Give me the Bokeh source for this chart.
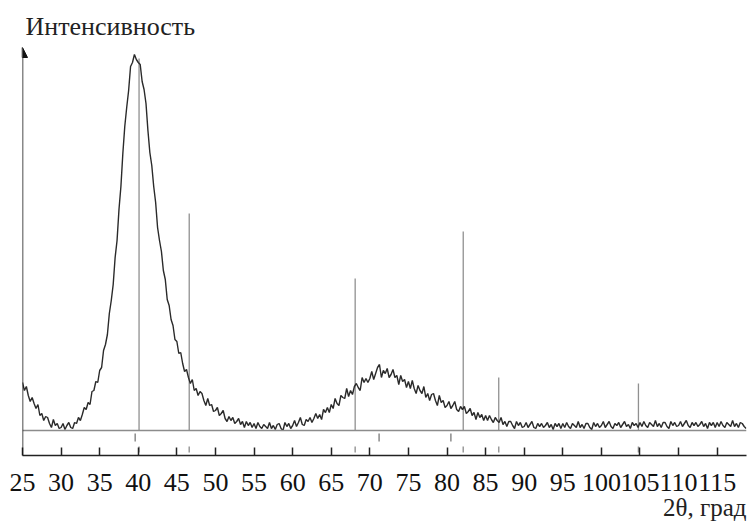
from bokeh.plotting import figure
from bokeh.models import Range1d, FixedTicker, Span, Arrow, NormalHead, Title
from bokeh.embed import file_html
from bokeh.resources import INLINE

# ---- data ----
two_theta = [
    25.0, 25.25, 25.5, 25.75, 26.0, 26.25, 26.5, 26.75, 27.0, 27.25,
    27.5, 27.75, 28.0, 28.25, 28.5, 28.75, 29.0, 29.25, 29.5, 29.75,
    30.0, 30.25, 30.5, 30.75, 31.0, 31.25, 31.5, 31.75, 32.0, 32.25,
    32.5, 32.75, 33.0, 33.25, 33.5, 33.75, 34.0, 34.25, 34.5, 34.75,
    35.0, 35.25, 35.5, 35.75, 36.0, 36.25, 36.5, 36.75, 37.0, 37.25,
    37.5, 37.75, 38.0, 38.25, 38.5, 38.75, 39.0, 39.25, 39.5, 39.75,
    40.0, 40.25, 40.5, 40.75, 41.0, 41.25, 41.5, 41.75, 42.0, 42.25,
    42.5, 42.75, 43.0, 43.25, 43.5, 43.75, 44.0, 44.25, 44.5, 44.75,
    45.0, 45.25, 45.5, 45.75, 46.0, 46.25, 46.5, 46.75, 47.0, 47.25,
    47.5, 47.75, 48.0, 48.25, 48.5, 48.75, 49.0, 49.25, 49.5, 49.75,
    50.0, 50.25, 50.5, 50.75, 51.0, 51.25, 51.5, 51.75, 52.0, 52.25,
    52.5, 52.75, 53.0, 53.25, 53.5, 53.75, 54.0, 54.25, 54.5, 54.75,
    55.0, 55.25, 55.5, 55.75, 56.0, 56.25, 56.5, 56.75, 57.0, 57.25,
    57.5, 57.75, 58.0, 58.25, 58.5, 58.75, 59.0, 59.25, 59.5, 59.75,
    60.0, 60.25, 60.5, 60.75, 61.0, 61.25, 61.5, 61.75, 62.0, 62.25,
    62.5, 62.75, 63.0, 63.25, 63.5, 63.75, 64.0, 64.25, 64.5, 64.75,
    65.0, 65.25, 65.5, 65.75, 66.0, 66.25, 66.5, 66.75, 67.0, 67.25,
    67.5, 67.75, 68.0, 68.25, 68.5, 68.75, 69.0, 69.25, 69.5, 69.75,
    70.0, 70.25, 70.5, 70.75, 71.0, 71.25, 71.5, 71.75, 72.0, 72.25,
    72.5, 72.75, 73.0, 73.25, 73.5, 73.75, 74.0, 74.25, 74.5, 74.75,
    75.0, 75.25, 75.5, 75.75, 76.0, 76.25, 76.5, 76.75, 77.0, 77.25,
    77.5, 77.75, 78.0, 78.25, 78.5, 78.75, 79.0, 79.25, 79.5, 79.75,
    80.0, 80.25, 80.5, 80.75, 81.0, 81.25, 81.5, 81.75, 82.0, 82.25,
    82.5, 82.75, 83.0, 83.25, 83.5, 83.75, 84.0, 84.25, 84.5, 84.75,
    85.0, 85.25, 85.5, 85.75, 86.0, 86.25, 86.5, 86.75, 87.0, 87.25,
    87.5, 87.75, 88.0, 88.25, 88.5, 88.75, 89.0, 89.25, 89.5, 89.75,
    90.0, 90.25, 90.5, 90.75, 91.0, 91.25, 91.5, 91.75, 92.0, 92.25,
    92.5, 92.75, 93.0, 93.25, 93.5, 93.75, 94.0, 94.25, 94.5, 94.75,
    95.0, 95.25, 95.5, 95.75, 96.0, 96.25, 96.5, 96.75, 97.0, 97.25,
    97.5, 97.75, 98.0, 98.25, 98.5, 98.75, 99.0, 99.25, 99.5, 99.75,
    100.0, 100.25, 100.5, 100.75, 101.0, 101.25, 101.5, 101.75, 102.0, 102.25,
    102.5, 102.75, 103.0, 103.25, 103.5, 103.75, 104.0, 104.25, 104.5, 104.75,
    105.0, 105.25, 105.5, 105.75, 106.0, 106.25, 106.5, 106.75, 107.0, 107.25,
    107.5, 107.75, 108.0, 108.25, 108.5, 108.75, 109.0, 109.25, 109.5, 109.75,
    110.0, 110.25, 110.5, 110.75, 111.0, 111.25, 111.5, 111.75, 112.0, 112.25,
    112.5, 112.75, 113.0, 113.25, 113.5, 113.75, 114.0, 114.25, 114.5, 114.75,
    115.0, 115.25, 115.5, 115.75, 116.0, 116.25, 116.5, 116.75, 117.0, 117.25,
    117.5, 117.75, 118.0, 118.25, 118.5, 118.75,
]
intensity = [
    48, 40, 44, 35, 29, 33, 27, 22, 26, 15,
    17, 10, 14, 13, 7, 3, 11, 5, 7, 2,
    3, 7, 1, 5, 8, 3, 2, 8, 7, 13,
    10, 16, 23, 21, 28, 26, 39, 40, 49, 48,
    60, 63, 80, 86, 96, 117, 130, 146, 173, 190,
    221, 244, 277, 304, 323, 340, 364, 368, 376, 371,
    368, 366, 349, 341, 327, 300, 278, 265, 244, 228,
    203, 190, 179, 160, 151, 131, 125, 111, 105, 91,
    89, 77, 78, 67, 59, 61, 53, 47, 51, 40,
    42, 35, 39, 37, 30, 25, 32, 25, 26, 19,
    20, 23, 15, 17, 20, 12, 9, 14, 10, 13,
    7, 9, 12, 6, 9, 3, 9, 5, 8, 3,
    7, 2, 8, 4, 2, 6, 4, 2, 8, 2,
    5, 1, 6, 7, 2, 0, 8, 4, 7, 2,
    5, 10, 4, 8, 13, 6, 5, 11, 9, 13,
    8, 12, 17, 12, 16, 11, 21, 18, 23, 18,
    26, 22, 32, 27, 25, 35, 33, 32, 42, 34,
    40, 36, 44, 47, 43, 40, 53, 48, 52, 48,
    52, 59, 51, 57, 63, 66, 53, 60, 57, 62,
    53, 56, 61, 53, 55, 46, 55, 49, 51, 43,
    49, 42, 50, 42, 37, 45, 40, 37, 44, 33,
    37, 30, 36, 37, 30, 25, 35, 28, 30, 23,
    25, 29, 22, 25, 29, 21, 19, 24, 21, 24,
    17, 19, 22, 15, 18, 11, 18, 13, 16, 10,
    15, 10, 15, 11, 8, 13, 10, 8, 13, 6,
    9, 4, 9, 9, 5, 2, 9, 5, 8, 3,
    4, 8, 3, 6, 9, 3, 2, 7, 4, 7,
    3, 5, 8, 3, 6, 1, 7, 4, 7, 2,
    7, 3, 8, 4, 2, 7, 5, 3, 9, 3,
    6, 2, 7, 7, 3, 1, 8, 4, 7, 3,
    5, 9, 3, 6, 9, 4, 2, 7, 5, 8,
    3, 6, 9, 4, 6, 2, 8, 5, 7, 3,
    8, 4, 9, 5, 3, 8, 6, 4, 10, 4,
    7, 3, 8, 8, 4, 2, 9, 5, 8, 4,
    5, 9, 4, 7, 10, 5, 3, 8, 5, 8,
    4, 6, 9, 4, 7, 2, 8, 5, 8, 3,
    8, 4, 9, 5, 3, 8, 6, 4, 10, 4,
    7, 3, 8, 7, 4, 2,
]

# reference pattern lines (position, relative height)
ref_pos = [40.1, 46.6, 68.1, 82.1, 86.7, 104.8]
ref_int = [372, 217, 152, 199, 53, 47]
# second set of reference positions (upper marker row)
ref2_pos = [39.6, 71.2, 80.5]

x_ticks = [25, 30, 35, 40, 45, 50, 55, 60, 65, 70, 75, 80, 85, 90, 95,
           100, 105, 110, 115]

y_title = "Интенсивность"
x_title = "2θ, град"

FONT = "Liberation Serif"

p = figure(width=748, height=522,
           x_range=Range1d(25, 118.8), y_range=Range1d(-25, 390),
           output_backend="svg", toolbar_location=None,
           y_axis_type=None,
           min_border_left=22, min_border_right=2,
           min_border_top=40, min_border_bottom=67)
p.grid.visible = False
p.outline_line_color = None
p.background_fill_color = "white"
p.border_fill_color = "white"

# top-left title
p.title.text = y_title
p.title.align = "left"
p.title.offset = 3
p.title.standoff = 0
p.title.text_font = FONT
p.title.text_font_size = "26px"
p.title.text_font_style = "normal"
p.title.text_color = "#222222"

xa = p.xaxis[0]
xa.ticker = FixedTicker(ticks=x_ticks)
xa.major_tick_in = 8
xa.major_tick_out = 0
xa.minor_tick_in = 0
xa.minor_tick_out = 0
xa.axis_line_color = "#222222"
xa.axis_line_width = 1.5
xa.major_tick_line_color = "#222222"
xa.major_tick_line_width = 1.5
xa.major_label_text_font = FONT
xa.major_label_text_font_size = "26px"
xa.major_label_text_color = "#111111"
xa.major_label_standoff = 18

# bottom-right axis title
p.add_layout(Title(text=x_title, align="right", text_font=FONT,
                   text_font_size="25px", text_font_style="normal",
                   text_color="#222222", standoff=-3), "below")

# baseline
p.add_layout(Span(location=0, dimension="width", line_color="#8c8c8c",
                  line_width=1.5))

# reference lines
p.segment(x0=ref_pos, y0=[0] * len(ref_pos), x1=ref_pos, y1=ref_int,
          line_color="#909090", line_width=1.3)
# marker rows below baseline
p.segment(x0=ref_pos, y0=-16, x1=ref_pos, y1=-22,
          line_color="#9a9a9a", line_width=1.5)
p.segment(x0=ref2_pos, y0=-3, x1=ref2_pos, y1=-11,
          line_color="#8a8a8a", line_width=1.5)

# measured pattern
p.line(two_theta, intensity, line_color="#2a2a2a", line_width=1.4)

# y axis arrow
p.add_layout(Arrow(end=NormalHead(size=10, fill_color="#111111",
                                  line_color="#111111"),
                   x_start=25, y_start=-25, x_end=25, y_end=383,
                   line_color="#111111", line_width=1.5))

open("out.html", "w").write(file_html(p, INLINE))
